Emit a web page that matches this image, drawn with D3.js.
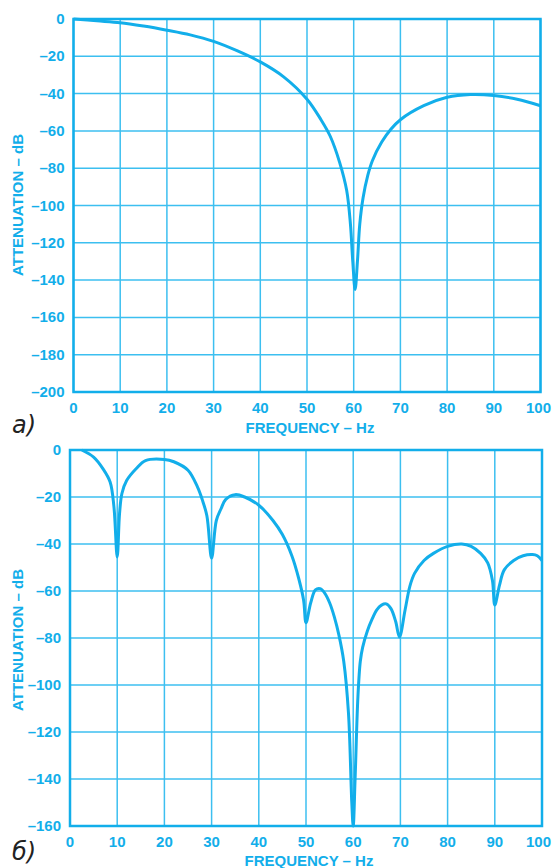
<!DOCTYPE html>
<html>
<head>
<meta charset="utf-8">
<script src="https://cdn.jsdelivr.net/npm/d3@7"></script>
<style>
  html, body { margin: 0; padding: 0; background: #fff; }
  svg { display: block; }
  .lbl { font-family: 'Liberation Sans', Arial, sans-serif; font-weight: bold; font-size: 15px; fill: #12aeea; }
</style>
</head>
<body>
<svg id="chart" width="552" height="868"></svg>
<script>
// data: frequency (Hz) vs attenuation (dB)
const freqA = [0, 5, 10, 15, 20, 25, 30, 35, 40, 45, 50, 53, 55, 57, 58.5, 59.3, 59.8, 60.3, 60.8, 61.3, 62, 63, 64, 66, 68, 70, 75, 80, 85, 90, 95, 100];
const attenA = [0, -1, -2, -3.8, -6, -8.5, -12, -17, -23, -31, -43, -54, -63, -77, -92, -110, -130, -145, -130, -110, -96, -84, -76, -66, -59, -54, -46.5, -42, -40.5, -41, -43, -46.5];

const freqB = [2.5, 5, 7, 8.5, 9.3, 10, 10.5, 11, 12, 14, 16, 20, 22, 25, 27, 28, 29, 30, 31, 32, 33, 35, 37, 40, 43, 45, 47, 48.5, 49.5, 50, 51, 52, 53, 54, 55, 56, 57, 58, 59, 59.7, 60, 60.4, 61, 61.5, 62, 63, 64, 65, 66, 67, 68, 69, 69.8, 71, 72, 73, 75, 77, 80, 83, 85, 87, 88.5, 89.5, 90, 91, 92, 94, 96, 98, 99, 100];
const attenB = [0, -3, -8, -13.6, -24, -45.5, -27, -18.5, -13, -8, -4.5, -4, -5, -8.6, -15.7, -21, -28, -46, -30, -25, -21, -19, -20, -23.5, -30, -36, -45, -55, -64, -73.5, -65, -59.5, -59, -61, -65, -71, -79, -90, -112, -150, -160, -140, -105, -90, -84, -77, -72, -68, -66, -65.5, -67.5, -73, -79.6, -68, -58, -52.5, -47, -44, -41, -40, -41, -44, -48, -55.5, -66, -57.5, -51, -47, -45, -44.5, -45, -47];

const xTicks = d3.range(0, 101, 10);
const yTicksA = d3.range(0, -201, -20);
const yTicksB = d3.range(0, -161, -20);

const blue = '#12aeea';
const grid = '#3cbff0';
const svg = d3.select('#chart');

function panel(cfg) {
  const x = d3.scaleLinear().domain([0, 100]).range([cfg.left, cfg.right]);
  const y = d3.scaleLinear().domain([0, cfg.yMin]).range([cfg.top, cfg.bottom]);
  const g = svg.append('g');

  // grid
  g.append('g').selectAll('line')
    .data(xTicks)
    .enter().append('line')
    .attr('x1', d => x(d)).attr('x2', d => x(d))
    .attr('y1', cfg.top).attr('y2', cfg.bottom)
    .attr('stroke', grid).attr('stroke-width', 1.5);
  g.append('g').selectAll('line')
    .data(cfg.yTicks)
    .enter().append('line')
    .attr('x1', cfg.left).attr('x2', cfg.right)
    .attr('y1', d => y(d)).attr('y2', d => y(d))
    .attr('stroke', grid).attr('stroke-width', 1.5);

  // frame
  g.append('rect')
    .attr('x', cfg.left).attr('y', cfg.top)
    .attr('width', cfg.right - cfg.left).attr('height', cfg.bottom - cfg.top)
    .attr('fill', 'none').attr('stroke', blue).attr('stroke-width', 2.5);

  // curve
  const pts = cfg.freq.map((f, i) => [f, cfg.atten[i]]);
  g.append('path')
    .datum(pts)
    .attr('d', d3.line().x(d => x(d[0])).y(d => y(d[1])).curve(d3.curveCatmullRom.alpha(0.5)))
    .attr('fill', 'none').attr('stroke', blue)
    .attr('stroke-width', 3).attr('stroke-linejoin', 'round');

  // tick labels (last one kept inside the page edge)
  g.append('g').selectAll('text')
    .data(xTicks)
    .enter().append('text')
    .attr('class', 'lbl')
    .attr('x', d => d === 100 ? 551 : x(d)).attr('y', cfg.bottom + 21)
    .attr('text-anchor', d => d === 100 ? 'end' : 'middle')
    .text(d => d);

  g.append('g').selectAll('text')
    .data(cfg.yTicks)
    .enter().append('text')
    .attr('class', 'lbl')
    .attr('x', cfg.left - 9).attr('y', d => y(d) + 5)
    .attr('text-anchor', 'end')
    .text(d => d === 0 ? '0' : '\u2013' + Math.abs(d));

  // axis titles
  g.append('text')
    .attr('class', 'lbl')
    .attr('x', (cfg.left + cfg.right) / 2 + 3).attr('y', cfg.bottom + cfg.titleDy)
    .attr('text-anchor', 'middle')
    .text('FREQUENCY \u2013 Hz');

  g.append('text')
    .attr('class', 'lbl')
    .attr('transform', `translate(23,${cfg.titleY}) rotate(-90)`)
    .attr('text-anchor', 'middle')
    .text('ATTENUATION \u2013 dB');

  // panel letter
  g.append('text')
    .attr('x', cfg.letterX).attr('y', cfg.letterY)
    .attr('font-family', 'DejaVu Sans, sans-serif')
    .attr('font-style', 'italic')
    .attr('font-size', '24px')
    .attr('fill', '#222')
    .text(cfg.letter);
}

panel({ left: 73.5, right: 540.5, top: 19, bottom: 392, yMin: -200, yTicks: yTicksA,
  freq: freqA, atten: attenA, titleY: 205, titleDy: 41, letter: '\u0430)', letterX: 12, letterY: 433 });
panel({ left: 70, right: 542, top: 450, bottom: 826, yMin: -160, yTicks: yTicksB,
  freq: freqB, atten: attenB, titleY: 640, titleDy: 40, letter: '\u0431)', letterX: 12, letterY: 860 });
</script>
</body>
</html>
